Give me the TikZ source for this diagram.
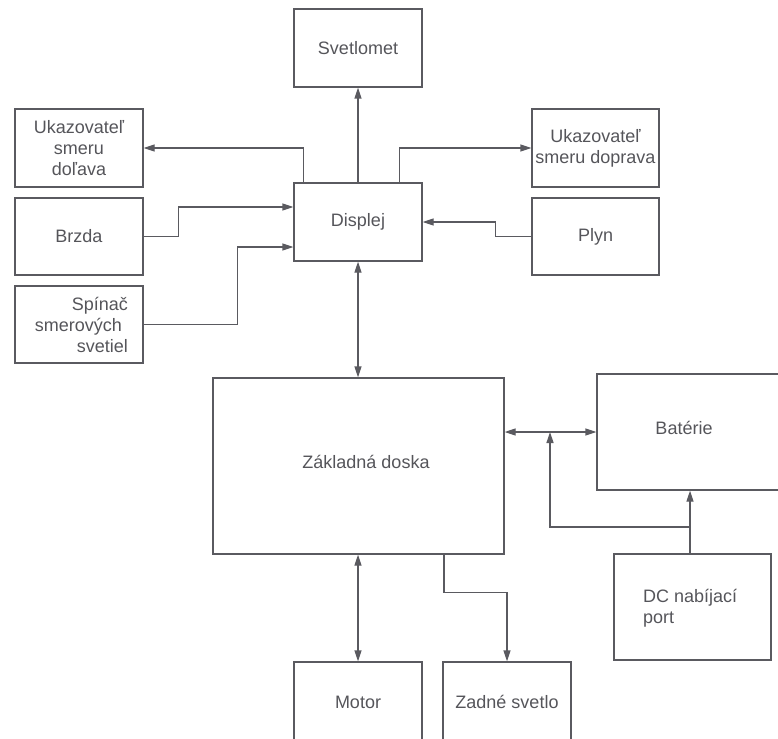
\documentclass[tikz,border=0pt]{standalone}
\usepackage{fontspec}
\setmainfont{Liberation Sans}
\usetikzlibrary{arrows.meta,calc}
\definecolor{lc}{RGB}{90,90,96}
\definecolor{tc}{RGB}{85,85,90}
\begin{document}
\begin{tikzpicture}[x=1pt,y=-1pt,
  box/.style={draw=lc, line width=1.3pt, inner sep=0pt, minimum width=128pt,
    minimum height=78pt, text=tc, font=\fontsize{18}{21}\selectfont, align=center},
  txt/.style={inner sep=0pt, text=tc, font=\fontsize{18}{21}\selectfont},
  conn/.style={draw=lc, line width=1.3pt, -{Triangle[length=11pt,width=7pt]}},
  bconn/.style={draw=lc, line width=1.3pt, {Triangle[length=11pt,width=7pt]}-{Triangle[length=11pt,width=7pt]}}]
\useasboundingbox (0,0) rectangle (778,738);
\clip (0,0) rectangle (778,738);

% boxes
\node[box] (svet) at (358,48) {Svetlomet};
\node[box] (disp) at (358,222) {Displej};
\node[box] (ukl) at (79,148) {Ukazovateľ\\smeru\\doľava};
\node[box, minimum height=77pt] (brz) at (79,236.5) {Brzda};
\node[box, minimum height=77pt, text width=98pt, align=right] (spin) at (79,324.5) {Spínač\\smerových\kern6pt\\svetiel};
\node[box, minimum width=127pt] (ukr) at (595.5,148) {Ukazovateľ\\smeru doprava};
\node[box, minimum width=127pt, minimum height=77pt] (plyn) at (595.5,236.5) {Plyn};
\node[box, minimum width=291pt, minimum height=176pt] (zak) at (358.5,466) {};
\node[txt] (zaktxt) at (366,462) {Základná doska};
\node[box, minimum width=203pt, minimum height=116pt] (bat) at (698.5,432) {};
\node[txt] (battxt) at (684,428) {Batérie};
\node[box, minimum width=157pt, minimum height=106pt] (dc) at (692.5,607) {};
\node[txt, align=left, anchor=west] (dctxt) at (643,608) {DC nabíjací\\port};
\node[box, minimum height=80pt] (motor) at (358,702) {Motor};
\node[box, minimum height=80pt] (zad) at (507,702) {Zadné svetlo};

% connectors
\draw[conn] (disp.north) -- (svet.south);
\draw[conn] ([xshift=10pt]disp.north west) |- (ukl.east);
\draw[conn] ([xshift=-23pt]disp.north east) |- (ukr.west);
\draw[conn] (brz.east) -- ++(35,0) |- ([yshift=15pt]disp.west);
\draw[conn] (spin.east) -- ++(94,0) |- ([yshift=-25pt]disp.west);
\draw[conn] (plyn.west) -- ++(-36,0) |- (disp.east);
\draw[bconn] (disp.south) -- (disp.south |- zak.north);
\draw[bconn] (motor.north) -- (motor.north |- zak.south);
\draw[conn] ([xshift=85.5pt]zak.south) -- ++(0,38) -| (zad.north);
\draw[bconn] (zak.east |- bat.west) -- (bat.west);
\coordinate (j) at (550,432);
\coordinate (k) at (690,527);
\draw[conn] (k) -| (j);
\draw[conn] (dc.north -| k) -- (bat.south -| k);
\end{tikzpicture}
\end{document}
